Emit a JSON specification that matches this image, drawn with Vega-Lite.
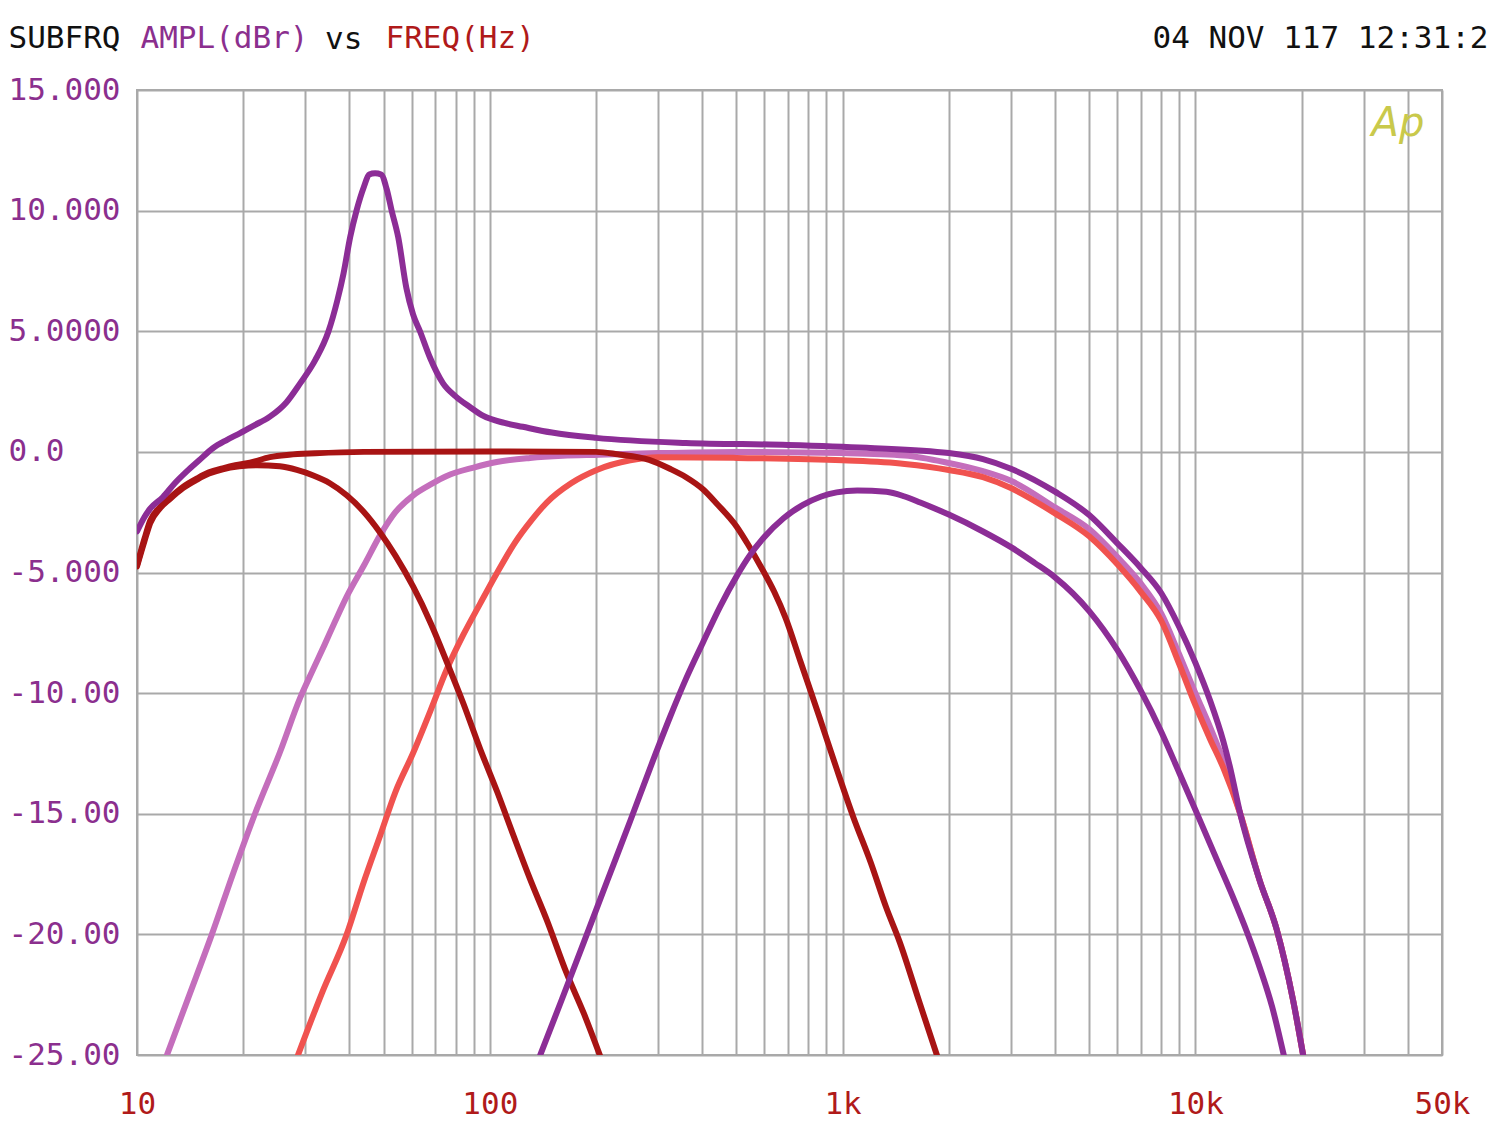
{
  "$schema": "https://vega.github.io/schema/vega-lite/v6.json",
  "width": 1305,
  "height": 965,
  "autosize": "none",
  "padding": {"left": 137, "top": 90, "right": 58, "bottom": 70},
  "background": "white",
  "title": {"text": "vs", "anchor": "start", "frame": "group", "dx": 188, "dy": 49, "offset": 0, "baseline": "middle", "font": "DejaVu Sans Mono", "fontSize": 31, "fontWeight": "normal", "color": "#111111"},
  "config": {"view": {"stroke": "#A9A9A9", "strokeWidth": 2}, "font": "DejaVu Sans Mono"},
  "datasets": {
    "curves": [
      {"c":"D","f":12.16,"db":-25},{"c":"D","f":14.0,"db":-22.6},{"c":"D","f":16.3,"db":-20},{"c":"D","f":18.8,"db":-17.4},{"c":"D","f":21.6,"db":-15},{"c":"D","f":25.4,"db":-12.46},{"c":"D","f":29.0,"db":-10.2},{"c":"D","f":31.6,"db":-9.0},{"c":"D","f":34,"db":-8.0},{"c":"D","f":36.5,"db":-7.0},{"c":"D","f":39.3,"db":-6.0},{"c":"D","f":44,"db":-4.7},{"c":"D","f":48.9,"db":-3.45},{"c":"D","f":54,"db":-2.5},{"c":"D","f":60.7,"db":-1.8},{"c":"D","f":68,"db":-1.35},{"c":"D","f":75.5,"db":-1.0},{"c":"D","f":90,"db":-0.65},{"c":"D","f":104.6,"db":-0.42},{"c":"D","f":130,"db":-0.25},{"c":"D","f":161,"db":-0.16},{"c":"D","f":204,"db":-0.12},{"c":"D","f":300,"db":-0.05},{"c":"D","f":500,"db":0.0},{"c":"D","f":1000,"db":-0.05},{"c":"D","f":1500,"db":-0.15},{"c":"D","f":2000,"db":-0.46},{"c":"D","f":2500,"db":-0.8},{"c":"D","f":3000,"db":-1.2},{"c":"D","f":4000,"db":-2.3},{"c":"D","f":5000,"db":-3.2},{"c":"D","f":6000,"db":-4.35},{"c":"D","f":7000,"db":-5.45},{"c":"D","f":8000,"db":-6.7},{"c":"D","f":9000,"db":-8.4},{"c":"D","f":10000,"db":-10.0},{"c":"D","f":11000,"db":-11.4},{"c":"D","f":12000,"db":-12.8},{"c":"D","f":13400,"db":-15.0},{"c":"D","f":15200,"db":-17.75},{"c":"D","f":17000,"db":-19.8},{"c":"D","f":18900,"db":-22.7},{"c":"D","f":20200,"db":-25},
      {"c":"E","f":28.6,"db":-25},{"c":"E","f":33.5,"db":-22.4},{"c":"E","f":39.3,"db":-20},{"c":"E","f":44,"db":-17.8},{"c":"E","f":48.9,"db":-15.9},{"c":"E","f":54,"db":-14.1},{"c":"E","f":60.7,"db":-12.46},{"c":"E","f":68,"db":-10.7},{"c":"E","f":75.5,"db":-9.02},{"c":"E","f":84,"db":-7.6},{"c":"E","f":93.8,"db":-6.3},{"c":"E","f":105,"db":-5.0},{"c":"E","f":118,"db":-3.75},{"c":"E","f":131,"db":-2.85},{"c":"E","f":145,"db":-2.1},{"c":"E","f":170,"db":-1.3},{"c":"E","f":201,"db":-0.75},{"c":"E","f":250,"db":-0.35},{"c":"E","f":300,"db":-0.22},{"c":"E","f":500,"db":-0.25},{"c":"E","f":1000,"db":-0.35},{"c":"E","f":1500,"db":-0.5},{"c":"E","f":2000,"db":-0.75},{"c":"E","f":2500,"db":-1.05},{"c":"E","f":3000,"db":-1.5},{"c":"E","f":4000,"db":-2.55},{"c":"E","f":5000,"db":-3.5},{"c":"E","f":6000,"db":-4.65},{"c":"E","f":7000,"db":-5.8},{"c":"E","f":8000,"db":-7.0},{"c":"E","f":9000,"db":-8.8},{"c":"E","f":10000,"db":-10.5},{"c":"E","f":11000,"db":-11.9},{"c":"E","f":12000,"db":-13.1},{"c":"E","f":13400,"db":-15.0},{"c":"E","f":15200,"db":-17.75},{"c":"E","f":17000,"db":-19.8},{"c":"E","f":18900,"db":-22.7},{"c":"E","f":20200,"db":-25},
      {"c":"B","f":10,"db":-4.7},{"c":"B","f":10.5,"db":-3.6},{"c":"B","f":10.9,"db":-2.85},{"c":"B","f":11.6,"db":-2.3},{"c":"B","f":12.4,"db":-1.9},{"c":"B","f":13.5,"db":-1.45},{"c":"B","f":14.8,"db":-1.1},{"c":"B","f":16,"db":-0.85},{"c":"B","f":17.5,"db":-0.68},{"c":"B","f":19,"db":-0.55},{"c":"B","f":20.9,"db":-0.45},{"c":"B","f":23.8,"db":-0.22},{"c":"B","f":27,"db":-0.12},{"c":"B","f":32,"db":-0.06},{"c":"B","f":44,"db":0.0},{"c":"B","f":100,"db":0.02},{"c":"B","f":200,"db":0.0},{"c":"B","f":230,"db":-0.1},{"c":"B","f":283,"db":-0.33},{"c":"B","f":324,"db":-0.7},{"c":"B","f":360,"db":-1.05},{"c":"B","f":402,"db":-1.55},{"c":"B","f":440,"db":-2.15},{"c":"B","f":501,"db":-3.1},{"c":"B","f":540,"db":-3.85},{"c":"B","f":586,"db":-4.75},{"c":"B","f":640,"db":-5.8},{"c":"B","f":690,"db":-6.9},{"c":"B","f":760,"db":-8.7},{"c":"B","f":860,"db":-11.0},{"c":"B","f":960,"db":-13.1},{"c":"B","f":1070,"db":-15.1},{"c":"B","f":1200,"db":-17.0},{"c":"B","f":1330,"db":-18.9},{"c":"B","f":1450,"db":-20.3},{"c":"B","f":1650,"db":-22.8},{"c":"B","f":1850,"db":-25},
      {"c":"C","f":10,"db":-4.75},{"c":"C","f":10.5,"db":-3.7},{"c":"C","f":10.9,"db":-2.95},{"c":"C","f":11.6,"db":-2.35},{"c":"C","f":12.4,"db":-1.95},{"c":"C","f":13.5,"db":-1.5},{"c":"C","f":14.8,"db":-1.15},{"c":"C","f":16,"db":-0.9},{"c":"C","f":17.5,"db":-0.72},{"c":"C","f":19.5,"db":-0.6},{"c":"C","f":21.9,"db":-0.55},{"c":"C","f":25.4,"db":-0.6},{"c":"C","f":28.4,"db":-0.75},{"c":"C","f":31.6,"db":-0.98},{"c":"C","f":35.2,"db":-1.3},{"c":"C","f":39.3,"db":-1.8},{"c":"C","f":43.7,"db":-2.45},{"c":"C","f":48.9,"db":-3.35},{"c":"C","f":54,"db":-4.3},{"c":"C","f":60.7,"db":-5.6},{"c":"C","f":68,"db":-7.1},{"c":"C","f":75.5,"db":-8.7},{"c":"C","f":84,"db":-10.4},{"c":"C","f":93.8,"db":-12.3},{"c":"C","f":105,"db":-14.1},{"c":"C","f":116.7,"db":-15.9},{"c":"C","f":130,"db":-17.7},{"c":"C","f":145,"db":-19.4},{"c":"C","f":165,"db":-21.6},{"c":"C","f":185,"db":-23.3},{"c":"C","f":205,"db":-25},
      {"c":"G","f":139,"db":-25},{"c":"G","f":160,"db":-22.7},{"c":"G","f":185,"db":-20.3},{"c":"G","f":215,"db":-17.8},{"c":"G","f":250,"db":-15.3},{"c":"G","f":290,"db":-12.8},{"c":"G","f":324,"db":-11.0},{"c":"G","f":360,"db":-9.4},{"c":"G","f":402,"db":-7.9},{"c":"G","f":450,"db":-6.4},{"c":"G","f":501,"db":-5.15},{"c":"G","f":545,"db":-4.3},{"c":"G","f":594,"db":-3.6},{"c":"G","f":680,"db":-2.75},{"c":"G","f":772,"db":-2.2},{"c":"G","f":870,"db":-1.85},{"c":"G","f":962,"db":-1.68},{"c":"G","f":1100,"db":-1.6},{"c":"G","f":1330,"db":-1.65},{"c":"G","f":1500,"db":-1.85},{"c":"G","f":1660,"db":-2.1},{"c":"G","f":2000,"db":-2.6},{"c":"G","f":2500,"db":-3.3},{"c":"G","f":3000,"db":-3.95},{"c":"G","f":3500,"db":-4.6},{"c":"G","f":4000,"db":-5.2},{"c":"G","f":5000,"db":-6.6},{"c":"G","f":6000,"db":-8.2},{"c":"G","f":7000,"db":-9.9},{"c":"G","f":8000,"db":-11.6},{"c":"G","f":9000,"db":-13.3},{"c":"G","f":10200,"db":-15.13},{"c":"G","f":11500,"db":-16.9},{"c":"G","f":12900,"db":-18.6},{"c":"G","f":14000,"db":-19.9},{"c":"G","f":15200,"db":-21.35},{"c":"G","f":16500,"db":-23.0},{"c":"G","f":17800,"db":-25},
      {"c":"A","f":10,"db":-3.3},{"c":"A","f":10.5,"db":-2.7},{"c":"A","f":10.9,"db":-2.35},{"c":"A","f":11.85,"db":-1.87},{"c":"A","f":12.8,"db":-1.3},{"c":"A","f":13.86,"db":-0.8},{"c":"A","f":15,"db":-0.35},{"c":"A","f":16.4,"db":0.15},{"c":"A","f":18,"db":0.5},{"c":"A","f":19.6,"db":0.78},{"c":"A","f":21.5,"db":1.1},{"c":"A","f":23.8,"db":1.46},{"c":"A","f":26.5,"db":2.05},{"c":"A","f":29,"db":2.84},{"c":"A","f":32,"db":3.8},{"c":"A","f":34.9,"db":5.0},{"c":"A","f":37,"db":6.3},{"c":"A","f":38.5,"db":7.4},{"c":"A","f":40.2,"db":8.9},{"c":"A","f":41.9,"db":10.0},{"c":"A","f":44,"db":11.0},{"c":"A","f":45.5,"db":11.5},{"c":"A","f":47.3,"db":11.55},{"c":"A","f":49.2,"db":11.5},{"c":"A","f":51,"db":10.9},{"c":"A","f":52.7,"db":10.0},{"c":"A","f":55,"db":8.9},{"c":"A","f":58,"db":6.8},{"c":"A","f":60.6,"db":5.7},{"c":"A","f":63.4,"db":5.0},{"c":"A","f":67.7,"db":3.9},{"c":"A","f":73.7,"db":2.84},{"c":"A","f":80,"db":2.3},{"c":"A","f":88,"db":1.85},{"c":"A","f":95.6,"db":1.5},{"c":"A","f":110,"db":1.2},{"c":"A","f":124,"db":1.04},{"c":"A","f":150,"db":0.8},{"c":"A","f":200,"db":0.58},{"c":"A","f":360,"db":0.37},{"c":"A","f":700,"db":0.29},{"c":"A","f":1170,"db":0.17},{"c":"A","f":2000,"db":-0.05},{"c":"A","f":2500,"db":-0.3},{"c":"A","f":3000,"db":-0.7},{"c":"A","f":4000,"db":-1.65},{"c":"A","f":5000,"db":-2.62},{"c":"A","f":6000,"db":-3.78},{"c":"A","f":7000,"db":-4.81},{"c":"A","f":8000,"db":-5.85},{"c":"A","f":9000,"db":-7.26},{"c":"A","f":10000,"db":-8.75},{"c":"A","f":11000,"db":-10.3},{"c":"A","f":12000,"db":-12.0},{"c":"A","f":12500,"db":-13.0},{"c":"A","f":13400,"db":-15.0},{"c":"A","f":15200,"db":-17.75},{"c":"A","f":17000,"db":-19.8},{"c":"A","f":18900,"db":-22.7},{"c":"A","f":20200,"db":-25}
    ]
  },
  "layer": [
    {
      "data": {"name": "curves"},
      "mark": {"type": "line", "strokeWidth": 6, "strokeJoin": "round", "strokeCap": "round", "interpolate": "monotone", "clip": true},
      "encoding": {
        "x": {
          "field": "f", "type": "quantitative",
          "scale": {"type": "log", "domain": [10, 50000], "nice": false},
          "axis": {
            "orient": "bottom",
            "values": [10,20,30,40,50,60,70,80,90,100,200,300,400,500,600,700,800,900,1000,2000,3000,4000,5000,6000,7000,8000,9000,10000,20000,30000,40000,50000],
            "grid": true, "gridColor": "#A9A9A9", "gridWidth": 2, "gridOpacity": 1,
            "domain": false, "ticks": false, "tickSize": 0,
            "labelExpr": "datum.value == 10 ? '10' : datum.value == 100 ? '100' : datum.value == 1000 ? '1k' : datum.value == 10000 ? '10k' : datum.value == 50000 ? '50k' : ''",
            "labelFont": "DejaVu Sans Mono", "labelFontSize": 31, "labelColor": "#B01A1A",
            "labelPadding": 34, "labelOverlap": false, "labelFlush": false, "labelBound": false,
            "title": "FREQ(Hz)", "titleFont": "DejaVu Sans Mono", "titleFontSize": 31, "titleFontWeight": "normal",
            "titleColor": "#B01A1A", "titleAngle": 0, "titleAlign": "left", "titleBaseline": "middle",
            "titleX": 248, "titleY": -1017, "titleLimit": 1000
          }
        },
        "y": {
          "field": "db", "type": "quantitative",
          "scale": {"domain": [-25, 15], "nice": false, "zero": false},
          "axis": {
            "orient": "left",
            "values": [-25,-20,-15,-10,-5,0,5,10,15],
            "grid": true, "gridColor": "#A9A9A9", "gridWidth": 2, "gridOpacity": 1,
            "domain": false, "ticks": false, "tickSize": 0,
            "labelExpr": "datum.value == 15 ? '15.000' : datum.value == 10 ? '10.000' : datum.value == 5 ? '5.0000' : datum.value == 0 ? '0.0' : datum.value == -5 ? '-5.000' : datum.value == -10 ? '-10.00' : datum.value == -15 ? '-15.00' : datum.value == -20 ? '-20.00' : '-25.00'",
            "labelFont": "DejaVu Sans Mono", "labelFontSize": 31, "labelColor": "#8B2F8E",
            "labelAlign": "left", "labelBaseline": "middle", "labelPadding": 129, "labelOverlap": false, "labelFlush": false, "labelBound": false,
            "title": "AMPL(dBr)", "titleFont": "DejaVu Sans Mono", "titleFontSize": 31, "titleFontWeight": "normal",
            "titleColor": "#8B2F8E", "titleAngle": 0, "titleAlign": "left", "titleBaseline": "middle",
            "titleX": 3, "titleY": -52, "titleLimit": 1000
          }
        },
        "color": {
          "field": "c", "type": "nominal", "legend": null,
          "scale": {"domain": ["D","E","B","C","G","A"], "range": ["#C46EBC","#F0524F","#A81414","#A81414","#8C2D96","#8C2D96"]}
        }
      }
    },
    {
      "data": {"values": [{"label": "Ap"}]},
      "mark": {"type": "text", "font": "DejaVu Sans", "fontStyle": "italic", "fontSize": 40, "color": "#C9C94B", "align": "center", "baseline": "middle"},
      "encoding": {
        "x": {
          "datum": 37500, "type": "quantitative",
          "axis": {
            "orient": "top", "labels": false, "ticks": false, "domain": false, "grid": false,
            "title": "SUBFRQ", "titleFont": "DejaVu Sans Mono", "titleFontSize": 31, "titleFontWeight": "normal",
            "titleColor": "#111111", "titleAngle": 0, "titleAlign": "left", "titleBaseline": "middle",
            "titleX": -129, "titleY": -52, "titleLimit": 1000
          }
        },
        "y": {
          "datum": 13.6, "type": "quantitative",
          "axis": {
            "orient": "right", "labels": false, "ticks": false, "domain": false, "grid": false,
            "title": "04 NOV 117 12:31:2", "titleFont": "DejaVu Sans Mono", "titleFontSize": 31, "titleFontWeight": "normal",
            "titleColor": "#111111", "titleAngle": 0, "titleAlign": "right", "titleBaseline": "middle",
            "titleX": 46, "titleY": -52, "titleLimit": 1000
          }
        },
        "text": {"field": "label"}
      }
    }
  ],
  "resolve": {"axis": {"x": "independent", "y": "independent"}}
}
